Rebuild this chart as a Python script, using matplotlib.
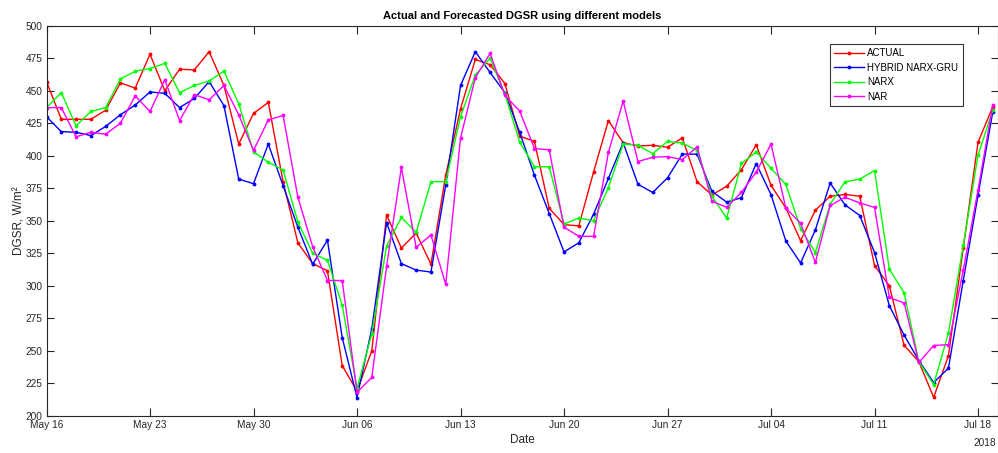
import numpy as np
import pandas as pd
import matplotlib
matplotlib.use("Agg")
import matplotlib.pyplot as plt
import matplotlib.dates as mdates

plt.rcParams['font.family'] = ['Liberation Sans', 'DejaVu Sans']

# Daily global solar radiation (W/m^2), 16 May - 19 Jul 2018
dates = pd.date_range("2018-05-16", periods=65, freq="D")

actual = [457, 428, 428, 428, 435, 456, 452, 478, 450, 466.5,
          466, 480, 454, 409, 432.5, 441, 380, 333, 317, 311.5,
          238.5, 219, 250, 354.5, 329, 340.5, 316.5, 385, 436, 474,
          470, 455.5, 415, 411, 359.5, 347, 346, 387.5, 427, 410,
          407.5, 408, 406.5, 413.7, 380, 369.8, 376.5, 389.3, 408.3, 377.2,
          359.8, 334.7, 358, 368.8, 370.2, 368.8, 315.5, 300, 254.2, 241.5,
          214.1, 246.2, 329, 410.3, 437.7]

hybrid = [430, 418.5, 418, 415.5, 422.5, 431.5, 439, 449, 448, 437,
          444, 457, 438.5, 382, 378.5, 409, 377, 345, 316.5, 335,
          260, 214, 267, 348.5, 317, 312, 310.5, 377.5, 454, 480,
          464, 448.5, 418, 385, 355.5, 326, 333, 355, 382.5, 410,
          378, 371.7, 383, 401.2, 401.2, 372.6, 364.3, 367.7, 393.9, 370,
          334.4, 317.5, 343, 379, 362.2, 354, 325.5, 284.7, 262, 242.4,
          225.5, 236.6, 304, 369.7, 433.9]

narx = [437, 448.5, 423, 434, 437, 459, 465, 467, 471, 448.5,
        454, 457.5, 465, 440, 403, 395, 389, 349, 325, 319.5,
        285, 221, 263, 330.5, 352.5, 341, 380, 380, 430, 462,
        475, 447.5, 410.5, 391.5, 391.5, 347.5, 352, 350, 375.5, 409,
        408, 401.6, 411, 409.7, 404, 368.8, 352, 394, 402.9, 390.3,
        377.9, 344, 325.5, 362.7, 379.9, 382, 388.6, 312.8, 294.5, 241.5,
        224, 263.7, 331, 400.5, 435]

nar = [437, 437, 414.5, 418, 416.5, 425, 446, 434, 458.5, 427,
       447, 443, 454, 431.5, 404, 427.5, 431, 368, 330, 304,
       304, 218, 229.5, 315, 391, 329.5, 339, 301, 413.5, 460,
       478.7, 446.5, 434.3, 405.5, 404.5, 345, 338, 338, 402.5, 442,
       395.5, 398.8, 399.3, 397, 406.7, 365, 360.3, 371.8, 387.5, 408.9,
       359.8, 348, 317.9, 361.7, 368, 363.7, 360.2, 291, 286.7, 241,
       254, 254.7, 312, 373.6, 439]

series = [
    ("ACTUAL", actual, (1, 0, 0)),
    ("HYBRID NARX-GRU", hybrid, (0, 0, 1)),
    ("NARX", narx, (0, 1, 0)),
    ("NAR", nar, (1, 0, 1)),
]

yticks = list(range(200, 501, 25))
xticks = pd.date_range("2018-05-16", "2018-07-18", freq="7D")

fig = plt.figure(figsize=(9.98, 4.53), dpi=100)
ax = fig.add_axes([0.0466, 0.0823, 0.9534, 0.861])

for name, vals, col in series:
    ax.plot(dates, vals, color=col, lw=1.0, marker='.', ms=3.5, label=name)

axis_col = (0.15, 0.15, 0.15)
ax.set_ylim(200, 500)
ax.set_yticks(yticks)
ax.set_xlim(dates[0], dates[0] + pd.Timedelta(days=64.35))
ax.set_xticks(xticks)
ax.xaxis.set_major_formatter(mdates.DateFormatter("%b %d"))

ax.tick_params(direction='in', top=True, right=True, length=6, width=0.8,
               labelsize=7.3, colors=axis_col, pad=3)
ax.tick_params(axis='y', length=5)
for s in ax.spines.values():
    s.set_color(axis_col)
    s.set_linewidth(0.8)

ax.set_title("Actual and Forecasted DGSR using different models",
             fontsize=8, fontweight='bold', color='black', pad=5)
ax.set_xlabel("Date", fontsize=8.5, color=axis_col, labelpad=3)
ax.set_ylabel("DGSR, W/m\u00b2", fontsize=8.5, color=axis_col, labelpad=0)
ax.annotate("2018", xy=(0.986, 0), xycoords='axes fraction', xytext=(0, -20),
            textcoords='offset points', ha='center', va='center',
            fontsize=7.3, color=axis_col)

leg = ax.legend(loc='upper right', bbox_to_anchor=(0.963, 0.953),
                fontsize=7, frameon=True, fancybox=False, edgecolor='black',
                handlelength=3.0, handletextpad=0.4, borderpad=0.45,
                labelspacing=0.45, numpoints=1, borderaxespad=0)
leg.get_frame().set_linewidth(0.8)

fig.savefig("out.png", dpi=100)
